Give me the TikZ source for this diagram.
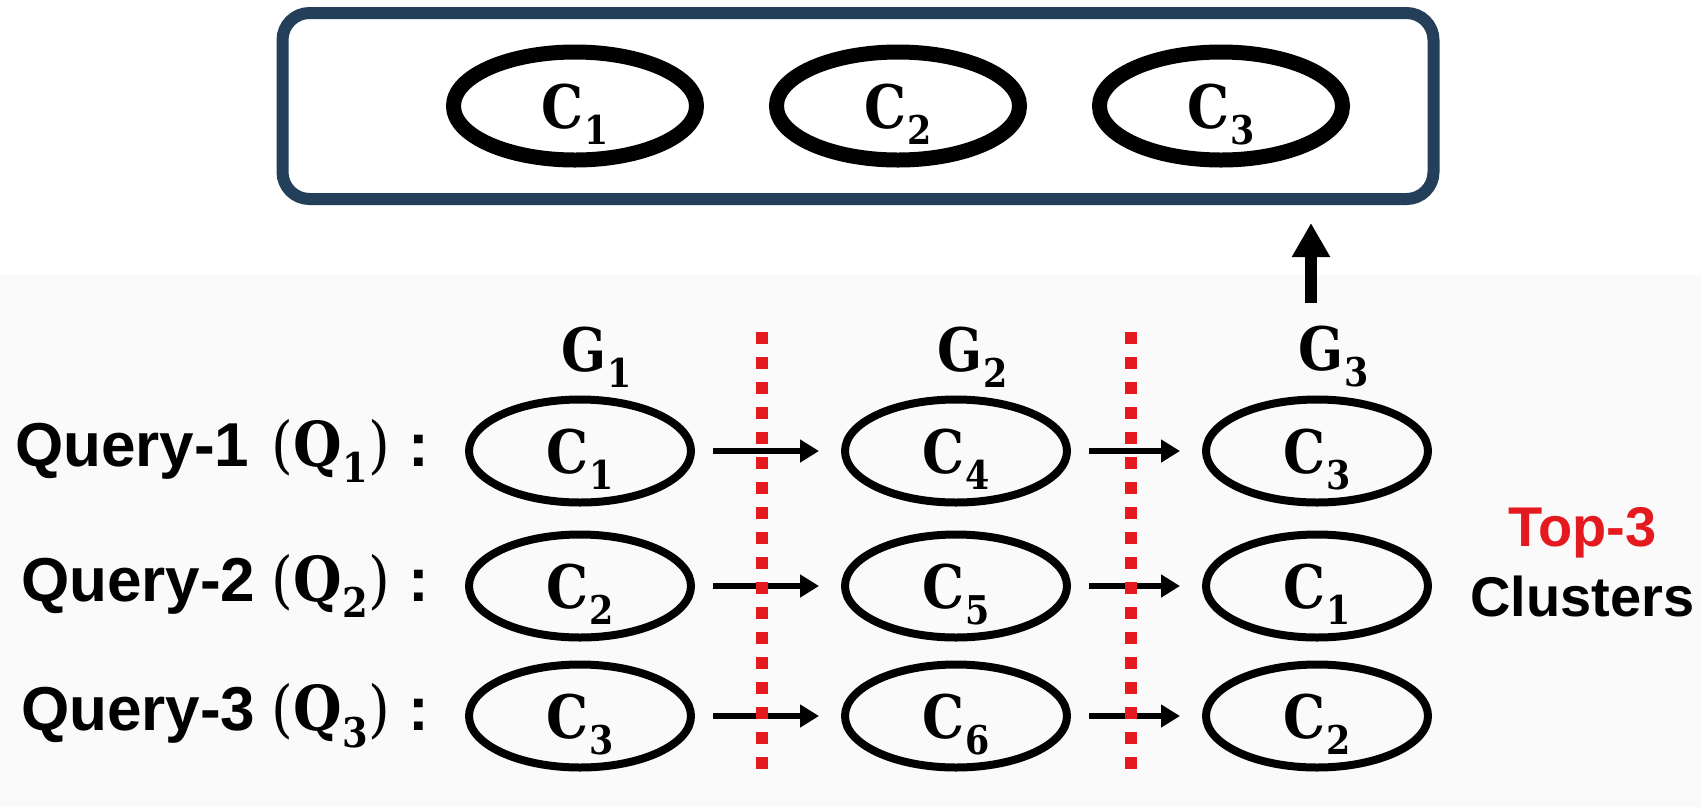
\RequirePackage{fix-cm}
\documentclass[tikz,border=0pt]{standalone}
\usepackage{fontspec}
\usepackage{graphicx}
\usepackage{xcolor}
\usepackage{tikz}
\usetikzlibrary{shapes.geometric, arrows.meta, positioning}

\newfontfamily\labelsans{Liberation Sans}
\newfontfamily\labelserif{DejaVu Serif}

\definecolor{boxnavy}{HTML}{243F5A}
\definecolor{topred}{HTML}{E51A1F}

% bold letter with a lowered index
\newcommand{\mlab}[2]{{\labelserif\bfseries #1}\kern1pt\raisebox{-0.27em}{\labelserif\bfseries\scalebox{0.66}{#2}}}
\newcommand{\clu}[1]{\scalebox{0.88}[1]{\mlab{C}{#1}}}
\newcommand{\grp}[1]{\scalebox{0.88}[1]{\mlab{G}{#1}}}
\newcommand{\qry}[1]{\scalebox{0.9}[1]{{\labelserif\mdseries(}\mlab{Q}{#1}{\labelserif\mdseries)}}}

\begin{document}
\begin{tikzpicture}[
        x=1pt, y=-1pt,
        cluster/.style={ellipse, draw, line width=8pt, minimum width=222pt,
                        minimum height=103pt, inner sep=0pt, text depth=0pt,
                        font=\fontsize{60}{70}\selectfont},
        topcluster/.style={cluster, line width=15pt, minimum width=243pt,
                           minimum height=108pt},
        group/.style={inner sep=0pt, font=\fontsize{60}{70}\selectfont},
        query/.style={inner sep=0pt, font=\fontsize{62}{72}\selectfont\labelsans\bfseries},
        hop/.style={-{Triangle[length=19pt, width=22pt]}, line width=6pt,
                    shorten <=18pt, shorten >=22pt},
        lift/.style={-{Triangle[length=34pt, width=36pt]}, line width=12pt},
        divider/.style={draw=topred, line width=12pt, dash pattern=on 12pt off 13pt},
    ]
        \useasboundingbox (0,0) rectangle (1701,807);
        \fill[white] (0,0) rectangle (1701,275);
        \fill[black!2] (0,275) rectangle (1701,807);

        % selected clusters
        \node[draw=boxnavy, line width=12pt, rounded corners=27pt,
              minimum width=1151pt, minimum height=186pt] (topbox) at (858,106) {};
        \node[topcluster] (sel1) at (575,106) {\clu{1}};
        \node[topcluster] (sel2) at (898,106) {\clu{2}};
        \node[topcluster] (sel3) at (1221,106) {\clu{3}};

        % per-query clusters in each group
        \node[cluster] (q1g1) at (580,451) {\clu{1}};
        \node[cluster] (q1g2) at (956,451) {\clu{4}};
        \node[cluster] (q1g3) at (1317,451) {\clu{3}};
        \node[cluster] (q2g1) at (580,586) {\clu{2}};
        \node[cluster] (q2g2) at (956,586) {\clu{5}};
        \node[cluster] (q2g3) at (1317,586) {\clu{1}};
        \node[cluster] (q3g1) at (580,716) {\clu{3}};
        \node[cluster] (q3g2) at (956,716) {\clu{6}};
        \node[cluster] (q3g3) at (1317,716) {\clu{2}};

        \node[group, above=8pt of q1g1, xshift=17pt] (g1) {\grp{1}};
        \node[group, above=8pt of q1g2, xshift=17pt] (g2) {\grp{2}};
        \node[group, above=8pt of q1g3, xshift=17pt] (g3) {\grp{3}};

        \node[query, left=36pt of q1g1] (qlab1) {Query-1\hspace{22pt}\qry{1}\hspace{18pt}:};
        \node[query, left=36pt of q2g1] (qlab2) {Query-2\hspace{16pt}\qry{2}\hspace{18pt}:};
        \node[query, left=36pt of q3g1] (qlab3) {Query-3\hspace{16pt}\qry{3}\hspace{18pt}:};

        \node[inner sep=0pt, align=center, right=38pt of q2g3, yshift=24pt,
              font=\fontsize{56}{70}\selectfont\labelsans\bfseries] (topk)
              {\textcolor{topred}{Top-3}\\Clusters};

        \draw[hop] (q1g1) -- (q1g2);
        \draw[hop] (q1g2) -- (q1g3);
        \draw[hop] (q2g1) -- (q2g2);
        \draw[hop] (q2g2) -- (q2g3);
        \draw[hop] (q3g1) -- (q3g2);
        \draw[hop] (q3g2) -- (q3g3);

        \draw[divider] (762,332) -- (762,772);
        \draw[divider] (1131,332) -- (1131,772);

        \coordinate (liftfoot) at (1311,303);
        \draw[lift, shorten >=18pt] (liftfoot) -- (liftfoot |- topbox.south);
    \end{tikzpicture}
\end{document}
